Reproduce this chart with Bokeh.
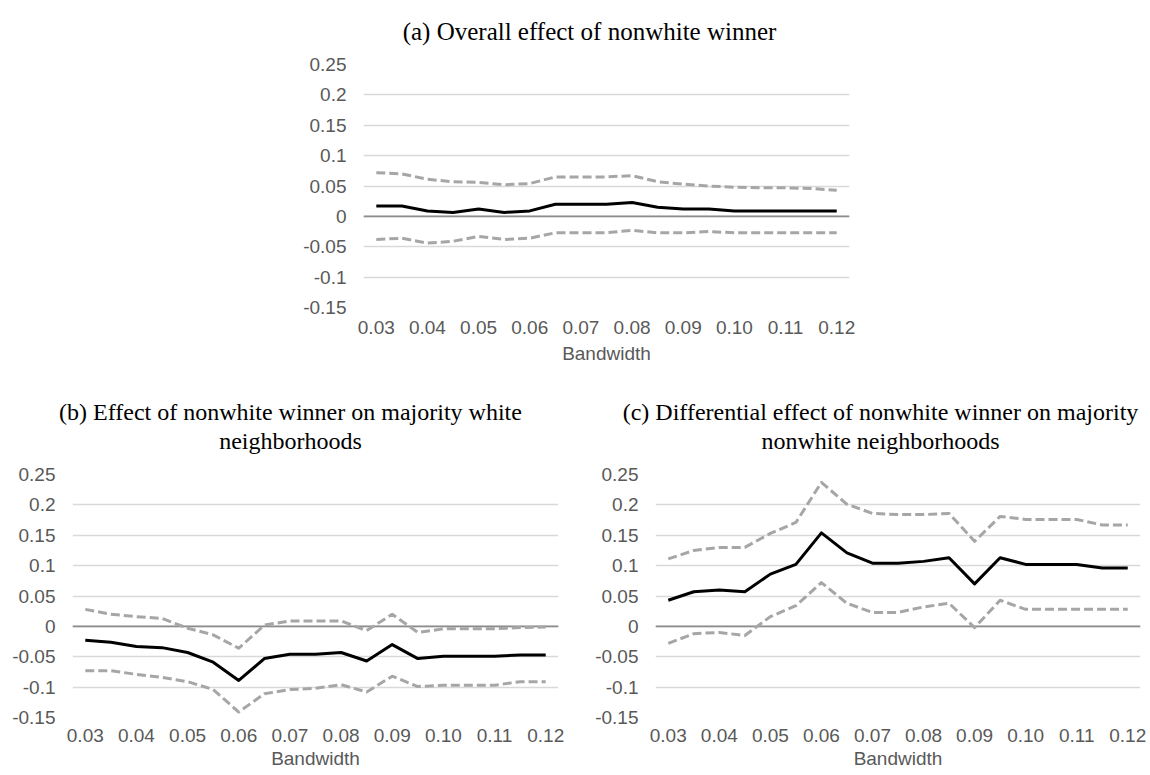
from bokeh.plotting import figure
from bokeh.models import Range1d, FixedTicker, CustomJSTickFormatter, Span, Label
from bokeh.layouts import column, row
from bokeh.embed import file_html
from bokeh.resources import INLINE

# ---------------- data ----------------
bandwidth = [0.030, 0.035, 0.040, 0.045, 0.050, 0.055, 0.060, 0.065, 0.070, 0.075,
             0.080, 0.085, 0.090, 0.095, 0.100, 0.105, 0.110, 0.115, 0.120]
x_tick_values = [0.03, 0.04, 0.05, 0.06, 0.07, 0.08, 0.09, 0.10, 0.11, 0.12]
y_tick_values = [-0.15, -0.1, -0.05, 0.0, 0.05, 0.1, 0.15, 0.2, 0.25]

# (a) Overall effect of nonwhite winner
a_est = [0.017, 0.017, 0.009, 0.0065, 0.012, 0.0065, 0.009, 0.020, 0.020, 0.020,
         0.023, 0.015, 0.012, 0.012, 0.009, 0.009, 0.009, 0.009, 0.009]
a_hi = [0.072, 0.070, 0.061, 0.057, 0.056, 0.052, 0.054, 0.065, 0.065, 0.065,
        0.067, 0.057, 0.053, 0.050, 0.048, 0.047, 0.047, 0.046, 0.043]
a_lo = [-0.038, -0.036, -0.044, -0.041, -0.033, -0.038, -0.036, -0.027, -0.027, -0.027,
        -0.023, -0.027, -0.027, -0.025, -0.027, -0.027, -0.027, -0.027, -0.027]

# (b) Effect of nonwhite winner on majority white neighborhoods
b_est = [-0.023, -0.026, -0.033, -0.035, -0.043, -0.059, -0.089, -0.053, -0.046, -0.046,
         -0.043, -0.057, -0.030, -0.053, -0.049, -0.049, -0.049, -0.047, -0.047]
b_hi = [0.028, 0.020, 0.016, 0.013, -0.003, -0.014, -0.036, 0.002, 0.009, 0.009,
        0.009, -0.007, 0.020, -0.010, -0.004, -0.004, -0.004, -0.002, -0.001]
b_lo = [-0.073, -0.073, -0.079, -0.084, -0.091, -0.104, -0.141, -0.111, -0.104, -0.102,
        -0.096, -0.108, -0.082, -0.099, -0.097, -0.097, -0.097, -0.091, -0.091]

# (c) Differential effect of nonwhite winner on majority nonwhite neighborhoods
c_est = [0.043, 0.057, 0.060, 0.057, 0.086, 0.102, 0.154, 0.121, 0.104, 0.104,
         0.107, 0.113, 0.070, 0.113, 0.102, 0.102, 0.102, 0.096, 0.096]
c_hi = [0.111, 0.125, 0.130, 0.130, 0.153, 0.171, 0.237, 0.201, 0.186, 0.184,
        0.184, 0.186, 0.140, 0.181, 0.176, 0.176, 0.176, 0.167, 0.167]
c_lo = [-0.028, -0.012, -0.010, -0.015, 0.016, 0.034, 0.072, 0.038, 0.023, 0.023,
        0.032, 0.038, -0.002, 0.043, 0.028, 0.028, 0.028, 0.028, 0.028]

title_a = ["(a) Overall effect of nonwhite winner"]
title_b = ["(b) Effect of nonwhite winner on majority white", "neighborhoods"]
title_c = ["(c) Differential effect of nonwhite winner on majority", "nonwhite neighborhoods"]
x_label = "Bandwidth"

SANS = "Liberation Sans"
SERIF = "Liberation Serif"
TICK_COLOR = "#595959"


def make_title(width, height, lines, cx, baselines, size):
    """A text-only strip above a panel: its plot area covers the whole strip."""
    t = figure(width=width, height=height, output_backend="svg", toolbar_location=None,
               title=None, x_axis_type=None, y_axis_type=None,
               x_range=Range1d(0, 1), y_range=Range1d(0, 1),
               min_border=0, frame_align=False)
    t.min_border_left = t.min_border_right = t.min_border_top = t.min_border_bottom = 0
    t.outline_line_color = None
    t.xgrid.visible = False
    t.ygrid.visible = False
    t.background_fill_color = "white"
    t.border_fill_color = "white"
    for txt, by in zip(lines, baselines):
        t.add_layout(Label(x=cx, y=by, x_units="screen", y_units="screen", text=txt,
                           text_align="center", text_baseline="alphabetic",
                           text_font=SERIF, text_font_size=size, text_color="black"))
    return t


def make_panel(width, height, bl, br, bb, tick_standoff, label_standoff, est, hi, lo):
    p = figure(width=width, height=height, output_backend="svg", toolbar_location=None,
               title=None,
               x_range=Range1d(0.0275, 0.1225), y_range=Range1d(-0.15, 0.25),
               min_border_left=bl, min_border_right=br, min_border_top=15,
               min_border_bottom=bb)
    p.outline_line_color = None
    p.background_fill_color = "white"
    p.border_fill_color = "white"

    p.xgrid.visible = False
    p.ygrid.grid_line_color = "#D9D9D9"
    p.ygrid.grid_line_width = 1.3
    p.ygrid.ticker = FixedTicker(ticks=y_tick_values)

    p.yaxis.ticker = FixedTicker(ticks=y_tick_values)
    p.yaxis.formatter = CustomJSTickFormatter(code="return String(parseFloat(tick.toFixed(3)));")
    p.xaxis.ticker = FixedTicker(ticks=x_tick_values)
    p.xaxis.formatter = CustomJSTickFormatter(code="return tick.toFixed(2);")
    for ax in (p.xaxis, p.yaxis):
        ax.axis_line_color = None
        ax.major_tick_line_color = None
        ax.minor_tick_line_color = None
        ax.major_tick_out = 0
        ax.major_tick_in = 0
        ax.minor_tick_out = 0
        ax.minor_tick_in = 0
        ax.major_label_text_font = SANS
        ax.major_label_text_font_size = "19px"
        ax.major_label_text_color = TICK_COLOR
    p.yaxis.major_label_standoff = 17
    p.xaxis.major_label_standoff = tick_standoff
    p.xaxis.axis_label = x_label
    p.xaxis.axis_label_standoff = label_standoff
    p.xaxis.axis_label_text_font = SANS
    p.xaxis.axis_label_text_font_size = "19px"
    p.xaxis.axis_label_text_font_style = "normal"
    p.xaxis.axis_label_text_color = TICK_COLOR

    zero = Span(location=0, dimension="width", line_color="#8C8C8C", line_width=1.6,
                level="underlay")
    p.add_layout(zero)

    p.line(bandwidth, hi, line_color="#A6A6A6", line_width=3, line_dash="9 4",
           line_join="round")
    p.line(bandwidth, lo, line_color="#A6A6A6", line_width=3, line_dash="9 4",
           line_join="round")
    p.line(bandwidth, est, line_color="black", line_width=3, line_join="round")
    return p


# page is laid out from its top-left corner (the template has no body margin)
ta = make_title(1150, 49, title_a, 589, [18.3], "25px")
pa = make_panel(1150, 331, 363, 301, 73, 13, 6, a_est, a_hi, a_lo)

tb = make_title(575, 79, title_b, 290, [47.5, 18.7], "24px")
pb = make_panel(575, 316, 72, 17, 58, 11, 3, b_est, b_hi, b_lo)

tc = make_title(575, 79, title_c, 305, [47.5, 18.7], "24px")
pc = make_panel(575, 316, 80, 10, 58, 11, 3, c_est, c_hi, c_lo)

layout = column(ta, pa, row(column(tb, pb), column(tc, pc)))
open("out.html", "w").write(file_html(layout, INLINE))
